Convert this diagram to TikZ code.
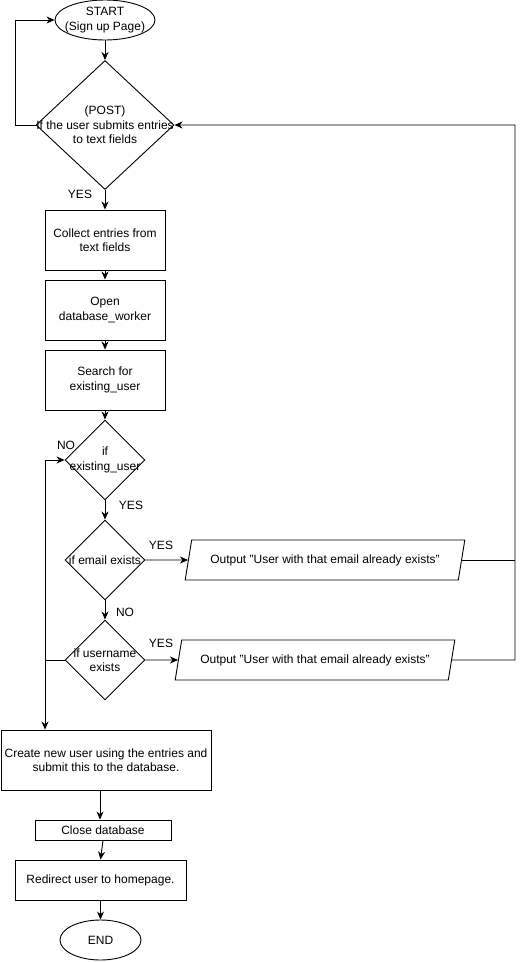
\documentclass[tikz,border=0pt]{standalone}
\usepackage{fontspec}
\setmainfont{Liberation Sans}
\usetikzlibrary{shapes.geometric,arrows.meta}
\begin{document}
\begin{tikzpicture}[x=1pt,y=-1pt,
  font=\fontsize{12}{14.5}\selectfont,
  line width=0.9pt,
  flow/.style={-{Stealth[length=8pt,width=7pt,inset=2.5pt]}},
  terminal/.style={draw,ellipse,inner sep=0pt},
  decision/.style={draw,diamond,inner sep=0pt},
  process/.style={draw,rectangle,inner sep=0pt,align=center},
  io/.style={draw,trapezium,trapezium left angle=63.4,trapezium right angle=116.6,
    trapezium stretches=true,inner sep=0pt,minimum height=40,align=center},
  inside/.style={align=center},
  tag/.style={inner sep=0pt}
]
\useasboundingbox (0,0) rectangle (526,962);

% terminals
\node[terminal,minimum width=100,minimum height=40,
  label={[inside]center:{START\\(Sign up Page)}}] (start) at (105,20) {};
\node[terminal,minimum width=81,minimum height=40] (end) at (100.5,940) {END};

% main decision
\node[decision,minimum width=138,minimum height=129,
  label={[inside]center:{(POST)\\If the user submits entries\\to text fields}}] (d1) at (105,125) {};

% processing steps
\node[process,minimum width=120,minimum height=60] (collect) at (105,240) {Collect entries from\\text fields};
\node[process,minimum width=120,minimum height=60] (open) at (105,310) {Open\\database\_worker};
\node[process,minimum width=120,minimum height=60] (search) at (105,380) {Search for\\existing\_user};

% checks
\node[decision,minimum width=80,minimum height=80,
  label={[inside]center:{if\\existing\_user}}] (d2) at (105,460) {};
\node[decision,minimum width=80,minimum height=80,
  label={[inside]center:{if email exists}}] (d3) at (105,560) {};
\node[decision,minimum width=80,minimum height=80,
  label={[inside]center:{if username\\exists}}] (d4) at (105,660) {};

% outputs
\node[io,minimum width=280] (out1) at (325,560) {Output "User with that email already exists"};
\node[io,minimum width=280] (out2) at (315,660) {Output "User with that email already exists"};

% final steps
\node[process,minimum width=210,minimum height=60] (create) at (106,760) {Create new user using the entries and\\submit this to the database.};
\node[process,minimum width=136,minimum height=20] (close) at (103,830) {Close database};
\node[process,minimum width=171,minimum height=40] (redirect) at (100.5,880) {Redirect user to homepage.};

% routing points
\coordinate (lt) at (15,125);
\coordinate (lb) at (45,660);
\coordinate (rb) at (515,660);

% connectors
\draw[flow] (start) -- (d1);
\draw[flow] (d1.west) -- (lt) |- (start.west);
\draw[flow] (d1) -- (collect);
\draw[flow] (collect) -- (open);
\draw[flow] (open) -- (search);
\draw[flow] (search) -- (d2);
\draw[flow] (d2) -- (d3);
\draw[flow] (d3) -- (d4);
\draw[flow] (d3.east) -- (out1.west);
\draw[flow] (d4.east) -- (out2.west);
\draw (out1.east) -- (out1.east -| rb);
\draw[flow] (out2.east) -- (rb) |- (d1.east);
\draw[flow] (d4.west) -- (lb) |- (d2.west);
\draw[flow] (lb) -- (lb |- create.north);
\draw[flow] (create.south -| 100,0) -- (close.north -| 100,0);
\draw[flow] (close.south) -- (redirect.north);
\draw[flow] (redirect) -- (end);

% branch labels
\node[tag] (y1) at (80,194) {YES};
\node[tag] (n1) at (66,445) {NO};
\node[tag] (y2) at (131,505) {YES};
\node[tag] (y3) at (161,545) {YES};
\node[tag] (n2) at (125,612) {NO};
\node[tag] (y4) at (161,643) {YES};
\end{tikzpicture}
\end{document}
